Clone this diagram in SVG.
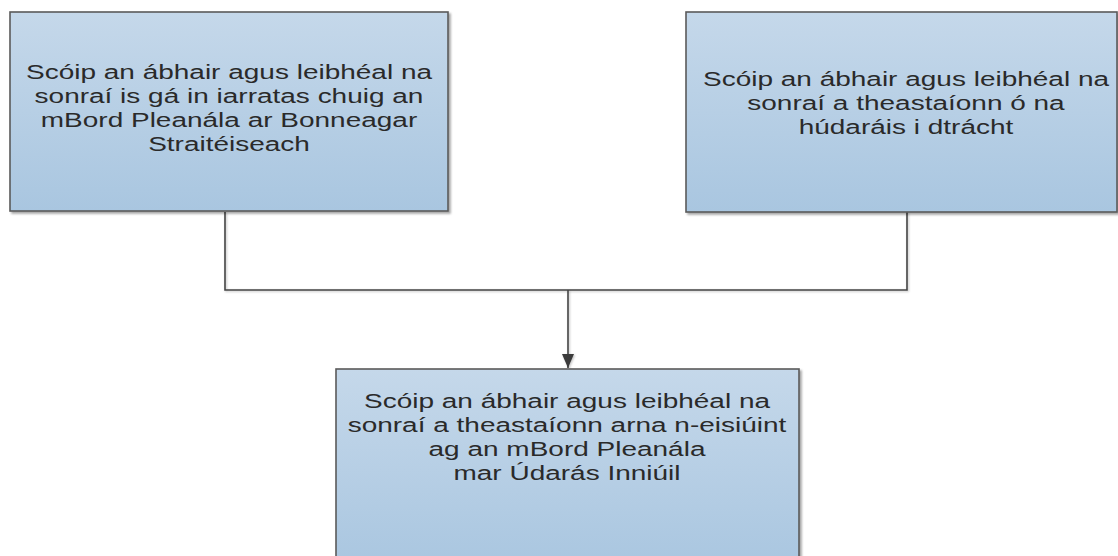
<svg xmlns="http://www.w3.org/2000/svg" width="1118" height="556" viewBox="0 0 1118 556">
<style>
.box{fill:url(#g);stroke:#5a5a5a;stroke-width:1.6;filter:url(#sh)}
.lbl{font-family:"Liberation Sans",Arial,sans-serif;font-size:21px;fill:#2a2a2a;text-anchor:middle}
.conn{fill:none;stroke:#444;stroke-width:1.6;filter:url(#sh2)}
</style>
<defs>
<linearGradient id="g" x1="0" y1="0" x2="0" y2="1">
<stop offset="0" stop-color="#c5d8ea"/>
<stop offset="1" stop-color="#a9c6e0"/>
</linearGradient>
<filter id="sh" x="-5%" y="-5%" width="110%" height="115%">
<feDropShadow dx="2" dy="2" stdDeviation="1.2" flood-color="#000" flood-opacity="0.35"/>
</filter>
<filter id="sh2" filterUnits="userSpaceOnUse" x="0" y="0" width="1118" height="556">
<feDropShadow dx="1" dy="1" stdDeviation="0.8" flood-color="#000" flood-opacity="0.25"/>
</filter>
<marker id="arr" viewBox="0 0 14 14" refX="14" refY="7" markerWidth="14" markerHeight="14" markerUnits="userSpaceOnUse" orient="auto">
<path d="M0,1 L14,7 L0,13 Z" fill="#3a3a3a"/>
</marker>
</defs>
<g id="connectors">
<path class="conn" d="M225,212 V290 H907 V212"/>
<path class="conn" d="M568,290 V368" marker-end="url(#arr)"/>
</g>
<g id="node1">
<rect class="box" x="10" y="12" width="438" height="199"/>
<g transform="translate(229 0) scale(1.333 1)">
<text class="lbl" x="0" y="79">Scóip an ábhair agus leibhéal na</text>
<text class="lbl" x="0" y="103">sonraí is gá in iarratas chuig an</text>
<text class="lbl" x="0" y="127">mBord Pleanála ar Bonneagar</text>
<text class="lbl" x="0" y="151">Straitéiseach</text>
</g>
</g>
<g id="node2">
<rect class="box" x="686" y="12" width="431" height="200"/>
<g transform="translate(906 0) scale(1.333 1)">
<text class="lbl" x="0" y="86">Scóip an ábhair agus leibhéal na</text>
<text class="lbl" x="0" y="110">sonraí a theastaíonn ó na</text>
<text class="lbl" x="0" y="134">húdaráis i dtrácht</text>
</g>
</g>
<g id="node3">
<rect class="box" x="336" y="369" width="463" height="200"/>
<g transform="translate(567 0) scale(1.333 1)">
<text class="lbl" x="0" y="408">Scóip an ábhair agus leibhéal na</text>
<text class="lbl" x="0" y="432">sonraí a theastaíonn arna n-eisiúint</text>
<text class="lbl" x="0" y="456">ag an mBord Pleanála</text>
<text class="lbl" x="0" y="480">mar Údarás Inniúil</text>
</g>
</g>
</svg>
